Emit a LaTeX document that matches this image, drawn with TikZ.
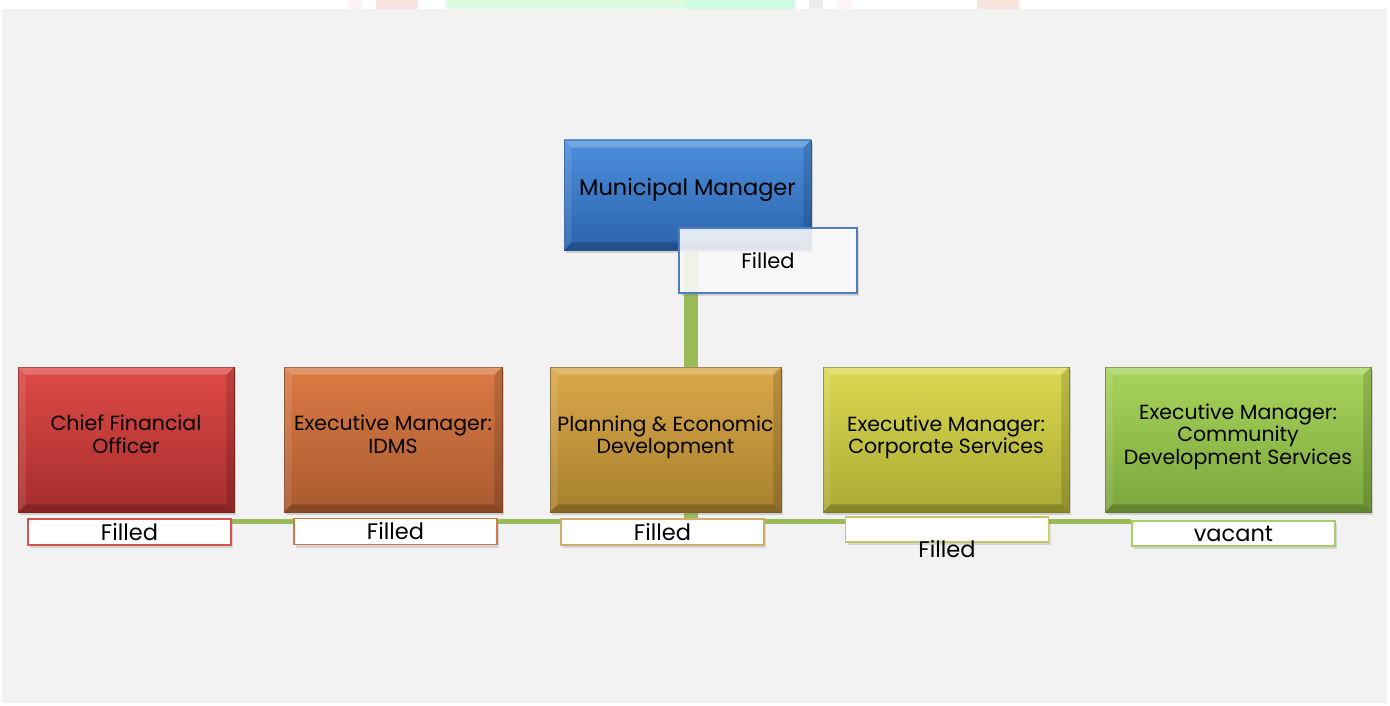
\documentclass[tikz,border=0pt]{standalone}
\usepackage{fontspec}
\setmainfont{Poppins}
\usetikzlibrary{shadows,backgrounds,calc}
\pgfdeclarelayer{bottom}
\pgfsetlayers{bottom,background,main}
\definecolor{bggray}{HTML}{F2F2F2}
\definecolor{linegreen}{HTML}{9BBB59}
\definecolor{mmtop}{HTML}{4C8FDB}\definecolor{mmbot}{HTML}{2B63AE}\definecolor{mmbd}{HTML}{2A5C9C}
\definecolor{cfotop}{HTML}{DF4A47}\definecolor{cfobot}{HTML}{A52D2C}
\definecolor{idtop}{HTML}{DC7A44}\definecolor{idbot}{HTML}{A85A30}
\definecolor{pltop}{HTML}{DAA84A}\definecolor{plbot}{HTML}{A8802E}
\definecolor{cotop}{HTML}{DCD950}\definecolor{cobot}{HTML}{A9A933}
\definecolor{cmtop}{HTML}{A8D45C}\definecolor{cmbot}{HTML}{7BA63C}
\definecolor{lbmm}{HTML}{4F7FC0}
\definecolor{lbcfo}{HTML}{D9514F}
\definecolor{lbid}{HTML}{D07A4C}
\definecolor{lbpl}{HTML}{CDAE6A}
\definecolor{lbco}{HTML}{C4C966}
\definecolor{lbcm}{HTML}{A6CD66}
\definecolor{stpink}{HTML}{F8E6DE}
\definecolor{stgreen}{HTML}{DDFBE0}
\definecolor{stgreenb}{HTML}{CCFDE0}
\tikzset{
  orgbox/.style={rectangle, minimum width=#1, minimum height=145pt, inner sep=0pt, drop shadow={opacity=0.3,shadow xshift=2pt,shadow yshift=-3pt}},
  boxtext/.style={align=center, font=\fontsize{20.5}{22.5}\selectfont, text=black, inner sep=0pt},
  statlabel/.style={rectangle, fill=white, line width=1.6pt, minimum width=203pt, minimum height=26pt, inner sep=0pt, font=\fontsize{22.5}{24}\selectfont, drop shadow={opacity=0.25,shadow xshift=2pt,shadow yshift=-3pt}},
  conn/.style={draw=linegreen, line width=5pt},
  vconn/.style={draw=linegreen, line width=14pt},
  bevhi/.style={fill=white, fill opacity=0.22},
  bevlo/.style={fill=black, fill opacity=0.14},
}
% bevel edges on a box node: #1 = node name
\newcommand{\bevelbox}[1]{%
  \fill[bevhi] (#1.north west) -- (#1.north east) -- ($(#1.north east)+(-8,8)$) -- ($(#1.north west)+(8,8)$) -- cycle;
  \fill[bevhi, fill opacity=0.1] (#1.north west) -- ($(#1.north west)+(8,8)$) -- ($(#1.south west)+(8,-8)$) -- (#1.south west) -- cycle;
  \fill[bevlo] (#1.north east) -- (#1.south east) -- ($(#1.south east)+(-8,-8)$) -- ($(#1.north east)+(-8,8)$) -- cycle;
  \fill[bevlo, fill opacity=0.2] (#1.south west) -- (#1.south east) -- ($(#1.south east)+(-8,-8)$) -- ($(#1.south west)+(8,-8)$) -- cycle;
}
\begin{document}
\begin{tikzpicture}[x=1pt,y=-1pt]
\useasboundingbox (0,0) rectangle (1390,706);
\begin{pgfonlayer}{bottom}
\fill[white] (0,0) rectangle (1390,706);
% faint strip at the top
\fill[red!5] (348,0) rectangle (362,9);
\fill[stpink] (376,0) rectangle (418,9);
\fill[stgreen] (446,0) rectangle (685,9);
\fill[stgreenb] (685,0) rectangle (795,9);
\fill[gray!15] (809,0) rectangle (823,9);
\fill[red!4] (837,0) rectangle (851,9);
\fill[stpink] (977,0) rectangle (1019,9);
\fill[bggray] (2,9) rectangle (1387,703);
\end{pgfonlayer}

% top box
\node[orgbox=247pt, minimum height=110pt, top color=mmtop, bottom color=mmbot, draw=mmbd, line width=0.6pt] (mm) at (687.5,195) {};
\bevelbox{mm}
\node[boxtext, font=\fontsize{22.5}{24}\selectfont] (mmt) at (mm.center) [yshift=5pt] {Municipal Manager};
\node[statlabel, fill opacity=0.85, draw=lbmm, line width=1.3pt, minimum width=178pt, minimum height=65pt, font=\fontsize{21}{22}\selectfont, text opacity=1] (mmf) at (768,260.5) {Filled};

% level-two boxes
\node[orgbox=216pt, top color=cfotop, bottom color=cfobot, draw=cfobot!80!black, line width=0.6pt] (cfo) at (126,439.5) {};
\node[orgbox=218pt, top color=idtop, bottom color=idbot, draw=idbot!80!black, line width=0.6pt] (idms) at (393,439.5) {};
\node[orgbox=231pt, top color=pltop, bottom color=plbot, draw=plbot!80!black, line width=0.6pt] (pln) at (665.5,439.5) {};
\node[orgbox=246pt, top color=cotop, bottom color=cobot, draw=cobot!80!black, line width=0.6pt] (cor) at (946,439.5) {};
\node[orgbox=266pt, top color=cmtop, bottom color=cmbot, draw=cmbot!80!black, line width=0.6pt] (com) at (1238,439.5) {};
\bevelbox{cfo}\bevelbox{idms}\bevelbox{pln}\bevelbox{cor}\bevelbox{com}

\node[boxtext] (cfot) at (cfo.center) [yshift=5pt] {Chief Financial\\Officer};
\node[boxtext] (idmst) at (idms.center) [yshift=5pt] {Executive Manager:\\IDMS};
\node[boxtext] (plnt) at (pln.center) [yshift=2pt] {Planning \& Economic\\Development};
\node[boxtext] (cort) at (cor.center) [yshift=2pt] {Executive Manager:\\Corporate Services};
\node[boxtext] (comt) at (com.center) [yshift=3pt] {Executive Manager:\\Community\\Development Services};

% status labels
\node[statlabel, draw=lbcfo] (cfof) at (129.5,532) {Filled};
\node[statlabel, draw=lbid] (idmsf) at (395.5,531.5) {Filled};
\node[statlabel, draw=lbpl] (plnf) at (662.5,532) {Filled};
\node[statlabel, draw=lbco, minimum height=25pt] (corf) at (947,529.5) {};
\node[font=\fontsize{22.5}{24}\selectfont, inner sep=0pt] (corft) at (947,549) {Filled};
\node[statlabel, draw=lbcm, minimum height=25pt] (comf) at (1233.5,533.5) {vacant};

\coordinate (hl) at (mm.south |- 0,521);
\coordinate (hlL) at (cfof.east |- hl);
\coordinate (hlR) at (comf.west |- hl);

\begin{scope}[on background layer]
\path[vconn] ([xshift=3.5pt]mm.south) -- ([xshift=3.5pt]hl);
\path[conn] (hlL) -- (hlR);
\end{scope}
\end{tikzpicture}
\end{document}
